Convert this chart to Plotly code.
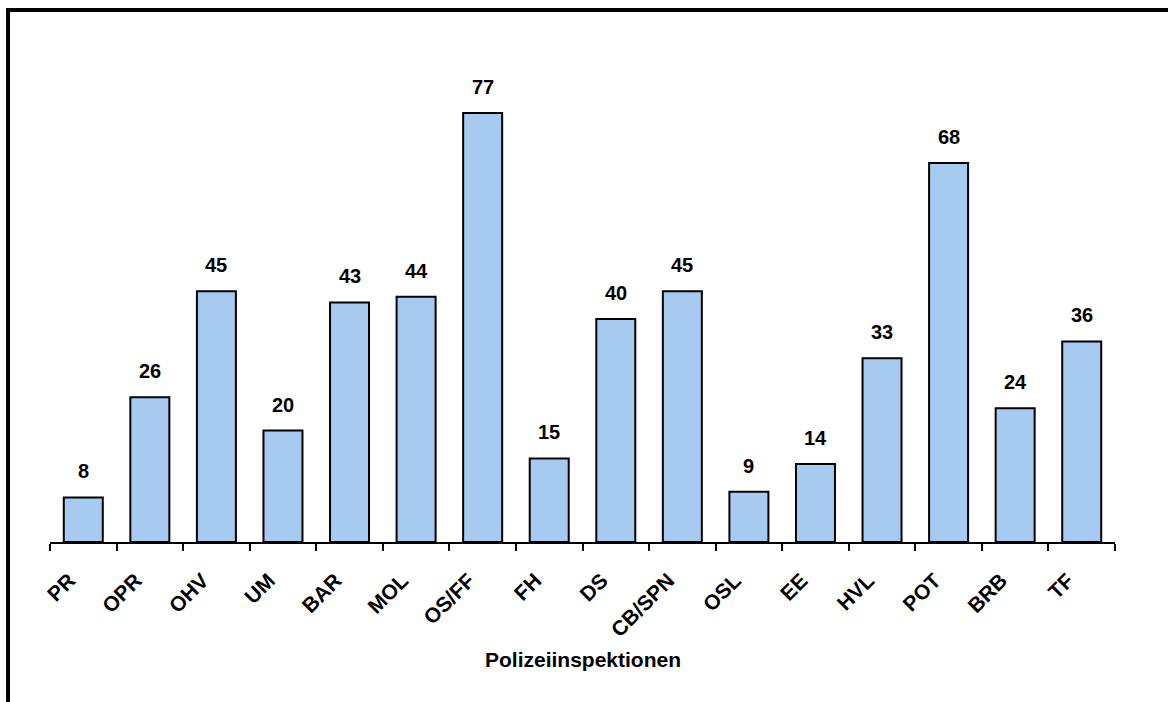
import plotly.graph_objects as go

categories = ["PR", "OPR", "OHV", "UM", "BAR", "MOL", "OS/FF", "FH", "DS", "CB/SPN",
              "OSL", "EE", "HVL", "POT", "BRB", "TF"]
values = [8, 26, 45, 20, 43, 44, 77, 15, 40, 45, 9, 14, 33, 68, 24, 36]
x_title = "Polizeiinspektionen"

FONT = "Liberation Sans, Arial, sans-serif"

fig = go.Figure()
fig.add_trace(go.Bar(
    x=categories, y=values,
    marker=dict(color="#A6CAF0", line=dict(color="black", width=2)),
    hoverinfo="x+y",
))

annotations = []
for c, v in zip(categories, values):
    annotations.append(dict(
        x=c, y=v, xref="x", yref="y", text=str(v), showarrow=False,
        yanchor="bottom", yshift=13,
        font=dict(family=FONT, size=20, color="black", weight="bold"),
    ))
annotations.append(dict(
    x=0.5, y=-0.2398, xref="paper", yref="paper", text=x_title, showarrow=False,
    xanchor="center", yanchor="middle",
    font=dict(family=FONT, size=21, color="black", weight="bold"),
))

fig.update_layout(
    width=1168, height=702,
    margin=dict(l=50, r=53, t=50, b=160, autoexpand=False),
    paper_bgcolor="white", plot_bgcolor="white",
    bargap=0.414,
    showlegend=False,
    annotations=annotations,
    shapes=[dict(type="rect", xref="paper", yref="paper",
                 x0=-0.0394, y0=-0.6, x1=1.3, y1=1.0813,
                 line=dict(color="black", width=4), layer="above")],
)
fig.update_xaxes(
    type="category",
    showline=True, linecolor="black", linewidth=2,
    ticks="outside", tickson="boundaries", ticklen=7, tickwidth=2, tickcolor="black",
    tickangle=-45,
    ticklabelshift=-14, ticklabelstandoff=16,
    tickfont=dict(family=FONT, size=21, color="black", weight="bold"),
    showgrid=False, zeroline=False,
    range=[-0.5, 15.5],
)
fig.update_yaxes(
    range=[0, 88.3], visible=False, showgrid=False, zeroline=False,
)

fig.write_html("out.html")
